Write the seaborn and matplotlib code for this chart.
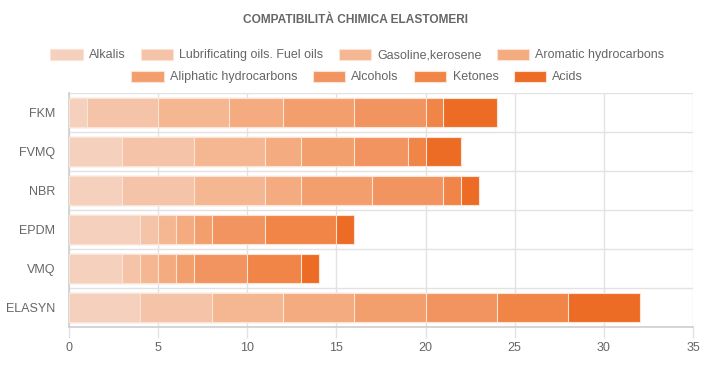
# --- IMPORT LIBRARIES ---
import numpy as np
import pandas as pd
import matplotlib
matplotlib.use('Agg')
import matplotlib.pyplot as plt
from matplotlib.patches import Patch
import seaborn as sns

# --- DATA ---
elastomers = ['FKM', 'FVMQ', 'NBR', 'EPDM', 'VMQ', 'ELASYN']
series_names = ['Alkalis', 'Lubrificating oils. Fuel oils', 'Gasoline,kerosene',
                'Aromatic hydrocarbons', 'Aliphatic hydrocarbons', 'Alcohols',
                'Ketones', 'Acids']
alkalis = [1, 3, 3, 4, 3, 4]
lub_oils = [4, 4, 4, 1, 1, 4]
gasoline = [4, 4, 4, 1, 1, 4]
aromatic = [3, 2, 2, 1, 1, 4]
aliphatic = [4, 3, 4, 1, 1, 4]
alcohols = [4, 3, 4, 3, 3, 4]
ketones = [1, 1, 1, 4, 3, 4]
acids = [3, 2, 1, 1, 1, 4]
series_values = [alkalis, lub_oils, gasoline, aromatic, aliphatic, alcohols, ketones, acids]
colors = ['#f4d0bd', '#f4c3a8', '#f4b792', '#f3ab7f', '#f39f6d', '#f29460',
          '#f18447', '#ec6c26']

# --- STYLE ---
sns.set_theme(style='white')
plt.rcParams['font.family'] = ['Liberation Sans', 'DejaVu Sans']
text_col = '#666666'
grid_col = '#e2e2e2'

fig = plt.figure(figsize=(7.09, 3.71), dpi=100)
ax = fig.add_axes([69 / 709, 1 - 327 / 371, (693 - 69) / 709, (327 - 93) / 371])

# --- STACKED BARS (draw cumulative totals, largest first) ---
df = pd.DataFrame({'elastomer': elastomers})
cum = np.zeros(len(elastomers))
cum_list = []
for vals in series_values:
    cum = cum + np.array(vals)
    cum_list.append(cum.copy())
for i in range(len(series_values) - 1, -1, -1):
    df['total'] = cum_list[i]
    sns.barplot(data=df, x='total', y='elastomer', orient='h', order=elastomers,
                color=colors[i], saturation=1, width=0.72, ax=ax,
                edgecolor='#fbe3d6', linewidth=0.8, zorder=3)

# --- AXES ---
ax.set_xlim(0, 35)
ax.set_ylim(len(elastomers) - 0.5, -0.5)
ax.set_xticks(range(0, 36, 5))
ax.set_xlabel('')
ax.set_ylabel('')
ax.grid(False)
for x in range(0, 36, 5):
    ax.axvline(x, color=grid_col, lw=1, zorder=0)
for y in np.arange(-0.5, len(elastomers), 1.0):
    ax.axhline(y, color=grid_col, lw=1, zorder=0)
ax.set_yticks(np.arange(-0.5, len(elastomers), 1.0), minor=True)
ax.tick_params(axis='y', which='minor', length=8, color=grid_col, width=1)
ax.tick_params(axis='y', which='major', length=0, pad=10, labelsize=9, labelcolor=text_col)
ax.tick_params(axis='x', which='major', length=8, color=grid_col, width=1, pad=3,
               labelsize=9, labelcolor=text_col, bottom=True)
for side in ['top', 'right']:
    ax.spines[side].set_visible(False)
ax.spines['left'].set_color('#d0d0d0')
ax.spines['bottom'].set_color('#d0d0d0')

# --- TITLE AND LEGEND ---
fig.text(0.502, 1 - 20 / 371, 'COMPATIBILITÀ CHIMICA ELASTOMERI', ha='center', va='center',
         fontsize=8.6, fontweight='bold', color=text_col)
handles = [Patch(facecolor=c, edgecolor='#fbe3d6', linewidth=0.8) for c in colors]
fig.legend(handles[:4], series_names[:4], loc='center', ncol=4,
           bbox_to_anchor=(0.504, 1 - 55 / 371), frameon=False, fontsize=9,
           handlelength=2.6, handleheight=1.0, handletextpad=0.5, columnspacing=1.2,
           labelcolor=text_col)
fig.legend(handles[4:], series_names[4:], loc='center', ncol=4,
           bbox_to_anchor=(0.504, 1 - 77 / 371), frameon=False, fontsize=9,
           handlelength=2.6, handleheight=1.0, handletextpad=0.5, columnspacing=1.2,
           labelcolor=text_col)

fig.savefig('out.png', dpi=100)
